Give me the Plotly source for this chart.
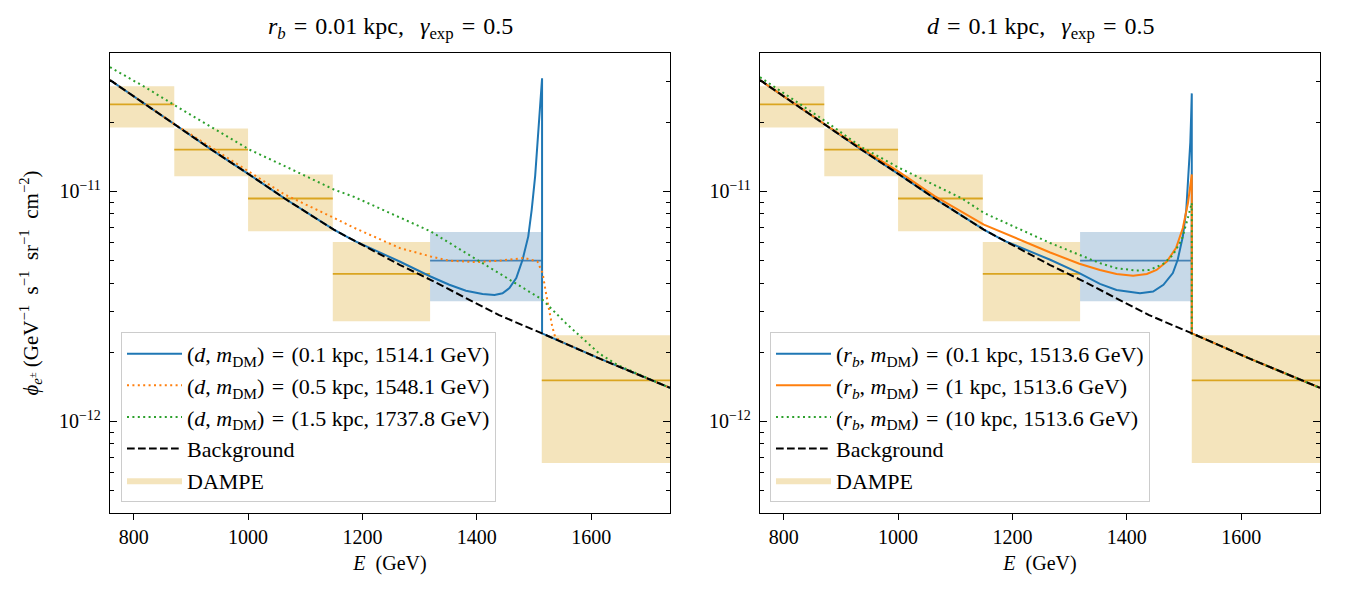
import plotly.graph_objects as go

# ---------------- data ----------------
# DAMPE bins (GeV) and flux (GeV^-1 s^-1 sr^-1 cm^-2)
E_lo = [758.6, 871.0, 1000.0, 1148.2, 1318.3, 1513.6]
E_hi = [871.0, 1000.0, 1148.2, 1318.3, 1513.6, 1737.8]
phi_c = [2.39e-11, 1.52e-11, 9.32e-12, 4.38e-12, 5.0e-12, 1.51e-12]
phi_lo = [1.897e-11, 1.166e-11, 6.71e-12, 2.73e-12, 3.33e-12, 6.6e-13]
phi_hi = [2.866e-11, 1.878e-11, 1.186e-11, 6.03e-12, 6.67e-12, 2.37e-12]
highlight_bin = 4

# background
BG_E = [758.6, 820, 873, 936, 1001, 1064, 1150, 1186, 1265, 1319, 1381, 1439, 1514, 1614, 1737.8]
BG_PHI = [3.05e-11, 2.39e-11, 1.95e-11, 1.52e-11, 1.19e-11, 9.32e-12, 6.82e-12, 6.1e-12,
          4.80e-12, 4.13e-12, 3.43e-12, 2.90e-12, 2.415e-12, 1.88e-12, 1.40e-12]

# left panel: r_b = 0.01 kpc
L1_E = [1265, 1319, 1352, 1381, 1410, 1431, 1445, 1457, 1469, 1480, 1490, 1496, 1502, 1506,
        1509.5, 1514.1, 1514.1]
L1_PHI = [4.96e-12, 4.27e-12, 3.93e-12, 3.70e-12, 3.58e-12, 3.55e-12, 3.61e-12, 3.80e-12,
          4.20e-12, 5.05e-12, 6.38e-12, 8.34e-12, 1.166e-11, 1.632e-11, 2.28e-11, 3.105e-11, 2.415e-12]
L2_E = [936, 1001, 1064, 1150, 1186, 1265, 1319, 1352, 1399, 1439, 1483, 1506, 1515, 1521, 1527,
        1532, 1537, 1548.1]
L2_PHI = [1.552e-11, 1.226e-11, 9.70e-12, 7.68e-12, 6.94e-12, 5.68e-12, 5.22e-12, 5.00e-12,
          4.93e-12, 5.00e-12, 5.14e-12, 4.96e-12, 4.42e-12, 3.61e-12, 3.05e-12, 2.58e-12,
          2.33e-12, 2.22e-12]
L3_E = [758.6, 820, 873, 936, 1001, 1064, 1150, 1186, 1265, 1319, 1381, 1439, 1497, 1515, 1556,
        1614, 1646, 1698, 1737.8]
L3_PHI = [3.47e-11, 2.84e-11, 2.36e-11, 1.90e-11, 1.526e-11, 1.29e-11, 1.02e-11, 9.46e-12,
          7.72e-12, 6.71e-12, 5.40e-12, 4.42e-12, 3.61e-12, 3.38e-12, 2.67e-12, 1.975e-12,
          1.76e-12, 1.54e-12, 1.40e-12]

# right panel: d = 0.1 kpc
R1_E = [1266, 1317, 1353, 1382, 1423, 1446, 1464, 1480.5, 1489, 1498, 1504, 1508, 1511,
        1512.5, 1513.6, 1513.6]
R1_PHI = [5.05e-12, 4.42e-12, 3.965e-12, 3.73e-12, 3.61e-12, 3.67e-12, 3.93e-12, 4.42e-12,
          5.05e-12, 6.38e-12, 8.34e-12, 1.166e-11, 1.632e-11, 2.13e-11, 2.67e-11, 2.415e-12]
R2_E = [936, 1001, 1064, 1150, 1266, 1317, 1353, 1382, 1411, 1435, 1452, 1470, 1486, 1498,
        1507, 1513.6, 1513.6]
R2_PHI = [1.535e-11, 1.22e-11, 9.55e-12, 7.18e-12, 5.43e-12, 4.85e-12, 4.56e-12, 4.38e-12,
          4.30e-12, 4.38e-12, 4.56e-12, 4.96e-12, 5.68e-12, 6.94e-12, 8.93e-12, 1.186e-11, 2.415e-12]
R3_E = [758.6, 873, 936, 1001, 1112, 1150, 1266, 1317, 1353, 1382, 1417, 1440, 1464, 1481,
        1496, 1506, 1513.6, 1513.6]
R3_PHI = [3.14e-11, 2.02e-11, 1.56e-11, 1.27e-11, 9.32e-12, 8.07e-12, 5.97e-12, 5.31e-12,
          4.88e-12, 4.64e-12, 4.53e-12, 4.56e-12, 4.85e-12, 5.31e-12, 6.17e-12, 7.54e-12,
          8.93e-12, 2.415e-12]

SP = "\u2004"  # three-per-em space (TeX-like spacing around '=')
EN = "\u2002"
LEFT_LABELS = [f"(<i>d</i>, <i>m</i><sub>DM</sub>){SP}={SP}(0.1 kpc, 1514.1 GeV)",
               f"(<i>d</i>, <i>m</i><sub>DM</sub>){SP}={SP}(0.5 kpc, 1548.1 GeV)",
               f"(<i>d</i>, <i>m</i><sub>DM</sub>){SP}={SP}(1.5 kpc, 1737.8 GeV)"]
RIGHT_LABELS = [f"(<i>r<sub>b</sub></i>, <i>m</i><sub>DM</sub>){SP}={SP}(0.1 kpc, 1513.6 GeV)",
                f"(<i>r<sub>b</sub></i>, <i>m</i><sub>DM</sub>){SP}={SP}(1 kpc, 1513.6 GeV)",
                f"(<i>r<sub>b</sub></i>, <i>m</i><sub>DM</sub>){SP}={SP}(10 kpc, 1513.6 GeV)"]
TITLES = [f"<i>r</i><sub><i>b</i></sub>{SP}={SP}0.01 kpc,{SP}{SP}<i>γ</i><sub>exp</sub>{SP}={SP}0.5",
          f"<i>d</i>{SP}={SP}0.1 kpc,{SP}{SP}<i>γ</i><sub>exp</sub>{SP}={SP}0.5"]
YTITLE = (f"<i>ϕ</i><sub><i>e</i><sup>±</sup></sub> (GeV<sup>−1</sup>{EN}s<sup>−1</sup>{EN}"
          f"sr<sup>−1</sup>{EN}cm<sup>−2</sup>)")
XTITLE = f"<i>E</i>{EN}(GeV)"


def join(pre_max, E, P, post_min):
    e = [x for x in BG_E if x <= pre_max] + list(E) + [x for x in BG_E if x > post_min]
    p = ([BG_PHI[i] for i, x in enumerate(BG_E) if x <= pre_max] + list(P)
         + [BG_PHI[i] for i, x in enumerate(BG_E) if x > post_min])
    return e, p


C0, C1, C2 = "#1f77b4", "#ff7f0e", "#2ca02c"
GOLD = "#daa520"
STEEL = "#4682b4"
DOT = "2px,3.4px"
DASH = "7.7px,3.3px"
FONT = "Liberation Serif"

left_series = [
    (join(1186, L1_E, L1_PHI, 1514.1), C0, "solid"),
    (join(873, L2_E, L2_PHI, 1548.1), C1, DOT),
    (join(0, L3_E, L3_PHI, 1e9), C2, DOT),
]
right_series = [
    (join(1186, R1_E, R1_PHI, 1513.6), C0, "solid"),
    (join(873, R2_E, R2_PHI, 1513.6), C1, "solid"),
    (join(0, R3_E, R3_PHI, 1513.6), C2, DOT),
]

fig = go.Figure()

for panel, (xa, ya, leg, series, labels) in enumerate([
        ("x", "y", "legend", left_series, LEFT_LABELS),
        ("x2", "y2", "legend2", right_series, RIGHT_LABELS)]):
    bx, by, hx, hy = [], [], [], []
    cx, cy, hcx, hcy = [], [], [], []
    for i in range(len(E_lo)):
        xs = [E_lo[i], E_hi[i], E_hi[i], E_lo[i], E_lo[i], None]
        ys = [phi_lo[i], phi_lo[i], phi_hi[i], phi_hi[i], phi_lo[i], None]
        lx = [E_lo[i], E_hi[i], None]
        ly = [phi_c[i], phi_c[i], None]
        if i == highlight_bin:
            hx += xs; hy += ys; hcx += lx; hcy += ly
        else:
            bx += xs; by += ys; cx += lx; cy += ly
    fig.add_trace(go.Scatter(x=bx, y=by, xaxis=xa, yaxis=ya, mode="lines", fill="toself",
                             fillcolor="rgba(218,165,32,0.3)", line=dict(width=0),
                             name="DAMPE", legend=leg, legendrank=5, hoverinfo="skip"))
    fig.add_trace(go.Scatter(x=hx, y=hy, xaxis=xa, yaxis=ya, mode="lines", fill="toself",
                             fillcolor="rgba(70,130,180,0.3)", line=dict(width=0),
                             showlegend=False, hoverinfo="skip"))
    fig.add_trace(go.Scatter(x=cx, y=cy, xaxis=xa, yaxis=ya, mode="lines",
                             line=dict(color=GOLD, width=1.8), showlegend=False))
    fig.add_trace(go.Scatter(x=hcx, y=hcy, xaxis=xa, yaxis=ya, mode="lines",
                             line=dict(color=STEEL, width=1.8), showlegend=False))
    for k, ((e, p), col, dash) in enumerate(series):
        fig.add_trace(go.Scatter(x=e, y=p, xaxis=xa, yaxis=ya, mode="lines",
                                 line=dict(color=col, width=2, dash=dash),
                                 name=labels[k], legend=leg, legendrank=k + 1))
    fig.add_trace(go.Scatter(x=BG_E, y=BG_PHI, xaxis=xa, yaxis=ya, mode="lines",
                             line=dict(color="black", width=2, dash=DASH),
                             name="Background", legend=leg, legendrank=4))

W, H = 1350, 600
ML, MR, MT, MB = 110, 30, 53, 87
pw = W - ML - MR
dom1 = [0, 560 / pw]
dom2 = [(760 - ML) / pw, 1]

minor_vals = [m * 10 ** e for e in (-13, -12, -11) for m in range(2, 10)]
xcommon = dict(range=[758.6, 1737.8], tickvals=[800, 1000, 1200, 1400, 1600],
               ticks="outside", ticklen=6, tickwidth=1.2, tickcolor="black",
               showline=True, linecolor="black", linewidth=1.3, mirror=True,
               showgrid=False, zeroline=False,
               tickfont=dict(family=FONT, size=20, color="black"),
               title=dict(text=XTITLE, font=dict(family=FONT, size=20, color="black"),
                          standoff=8))
ycommon = dict(type="log", range=[-12.39794, -10.39794],
               tickvals=[1e-12, 1e-11], ticktext=["10<sup>−12</sup>", "10<sup>−11</sup>"],
               ticks="inside", ticklen=7, tickwidth=1.2, tickcolor="black",
               minor=dict(tickvals=minor_vals, ticks="inside", ticklen=4, tickwidth=1,
                          tickcolor="black"),
               showline=True, linecolor="black", linewidth=1.3, mirror="ticks",
               showgrid=False, zeroline=False, ticklabelstandoff=4,
               tickfont=dict(family=FONT, size=20, color="black"))

legcommon = dict(bgcolor="rgba(255,255,255,0.8)", bordercolor="#cccccc", borderwidth=1,
                 font=dict(family=FONT, size=22, color="black"), itemwidth=55,
                 xanchor="left", yanchor="bottom", y=0.024)

fig.update_layout(
    width=W, height=H, margin=dict(l=ML, r=MR, t=MT, b=MB),
    paper_bgcolor="white", plot_bgcolor="white",
    font=dict(family=FONT, color="black"),
    xaxis=dict(domain=dom1, anchor="y", **xcommon),
    xaxis2=dict(domain=dom2, anchor="y2", **xcommon),
    yaxis=dict(domain=[0, 1], anchor="x",
               title=dict(text=YTITLE, font=dict(family=FONT, size=21, color="black"),
                          standoff=14),
               **ycommon),
    yaxis2=dict(domain=[0, 1], anchor="x2", **ycommon),
    legend=dict(x=(121 - ML) / pw, **legcommon),
    legend2=dict(x=(770 - ML) / pw, **legcommon),
    showlegend=True,
    annotations=[
        dict(text=TITLES[0], x=(dom1[0] + dom1[1]) / 2, y=1, xref="paper", yref="paper",
             xanchor="center", yanchor="bottom", yshift=8, showarrow=False,
             font=dict(family=FONT, size=24, color="black")),
        dict(text=TITLES[1], x=(dom2[0] + dom2[1]) / 2, y=1, xref="paper", yref="paper",
             xanchor="center", yanchor="bottom", yshift=8, showarrow=False,
             font=dict(family=FONT, size=24, color="black")),
    ],
)

fig.write_html("out.html")
